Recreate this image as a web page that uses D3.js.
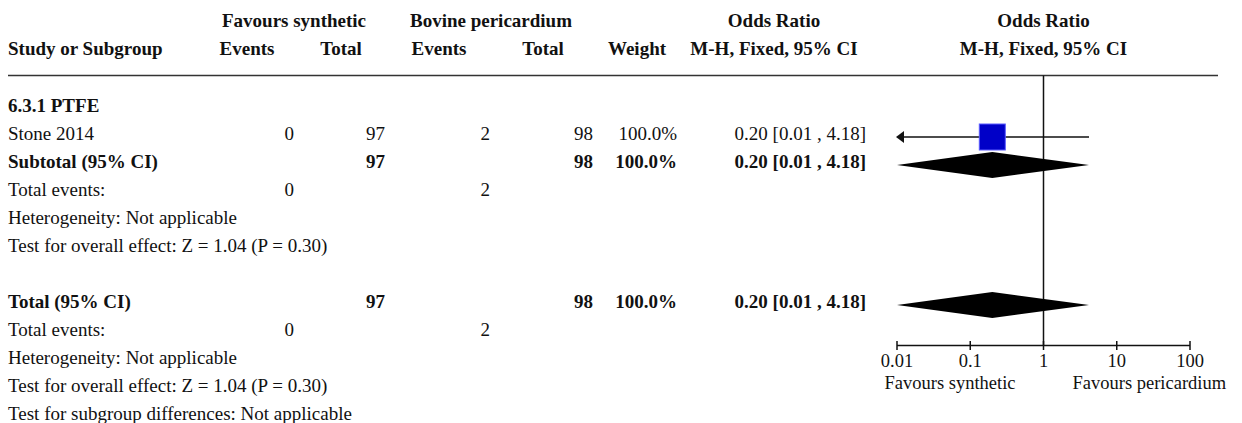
<!DOCTYPE html>
<html>
<head>
<meta charset="utf-8">
<script src="https://cdn.jsdelivr.net/npm/d3@7"></script>
<style>
  html, body { margin: 0; padding: 0; background: #fff; }
  svg { display: block; }
  text { font-family: "Liberation Serif", "Times New Roman", serif; fill: #111; }
</style>
</head>
<body>
<svg id="chart" width="1242" height="423"></svg>
<script>
// ---------------- data ----------------
const groupLabel = "6.3.1 PTFE";
const studies = ["Stone 2014"];
const synthEvents = [0];
const synthTotal = [97];
const bovEvents = [2];
const bovTotal = [98];
const weights = [100.0];
const orEst = [0.20];
const ciLow = [0.01];
const ciHigh = [4.18];

const subtotal = { label: "Subtotal (95% CI)", synthTotal: 97, bovTotal: 98, weight: 100.0, or: 0.20, lo: 0.01, hi: 4.18, synthEvents: 0, bovEvents: 2 };
const overall = { label: "Total (95% CI)", synthTotal: 97, bovTotal: 98, weight: 100.0, or: 0.20, lo: 0.01, hi: 4.18, synthEvents: 0, bovEvents: 2 };
const heterogeneityText = "Heterogeneity: Not applicable";
const overallEffectText = "Test for overall effect: Z = 1.04 (P = 0.30)";
const subgroupDiffText = "Test for subgroup differences: Not applicable";

const axisTicks = [0.01, 0.1, 1, 10, 100];
const axisTickLabels = ["0.01", "0.1", "1", "10", "100"];
const favoursLeft = "Favours synthetic";
const favoursRight = "Favours pericardium";

// ---------------- layout ----------------
const svg = d3.select("#chart");
const FS = 19;
const x = d3.scaleLog().domain([0.01, 100]).range([897, 1190]);
const rowY = d3.scaleLinear().domain([0, 1]).range([112, 140]); // text baseline by row index
const markOffset = -3;

const col = { study: 8, sEv: 294, sTot: 385, bEv: 490, bTot: 593, weight: 677, ci: 866 };
const fmtCI = (o, l, h) => `${o.toFixed(2)} [${l.toFixed(2)} , ${h.toFixed(2)}]`;
const fmtW = w => w.toFixed(1) + "%";

function txt(xp, y, s, opts = {}) {
  return svg.append("text")
    .attr("x", xp).attr("y", y)
    .attr("font-size", opts.size || FS)
    .attr("font-weight", opts.bold ? "bold" : "normal")
    .attr("text-anchor", opts.anchor || "start")
    .text(s);
}

// headers
txt(294, 27, "Favours synthetic", { bold: true, anchor: "middle" });
txt(491, 27, "Bovine pericardium", { bold: true, anchor: "middle" });
txt(774, 27, "Odds Ratio", { bold: true, anchor: "middle" });
txt(x(1), 27, "Odds Ratio", { bold: true, anchor: "middle" });
txt(8, 55, "Study or Subgroup", { bold: true });
txt(247, 55, "Events", { bold: true, anchor: "middle" });
txt(341, 55, "Total", { bold: true, anchor: "middle" });
txt(439, 55, "Events", { bold: true, anchor: "middle" });
txt(543, 55, "Total", { bold: true, anchor: "middle" });
txt(637, 55, "Weight", { bold: true, anchor: "middle" });
txt(774, 55, "M-H, Fixed, 95% CI", { bold: true, anchor: "middle" });
txt(x(1), 55, "M-H, Fixed, 95% CI", { bold: true, anchor: "middle" });

svg.append("line").attr("x1", 8).attr("x2", 1218).attr("y1", 75.5).attr("y2", 75.5)
  .attr("stroke", "#333").attr("stroke-width", 1.6);

// center line
const axisY = 345.5;
svg.append("line").attr("x1", x(1)).attr("x2", x(1)).attr("y1", 75.5).attr("y2", axisY)
  .attr("stroke", "#111").attr("stroke-width", 1.5);

// group label
txt(col.study, rowY(0), groupLabel, { bold: true });

// studies
studies.forEach((s, i) => {
  const r = 1 + i, y = rowY(r);
  txt(col.study, y, s);
  txt(col.sEv, y, synthEvents[i], { anchor: "end" });
  txt(col.sTot, y, synthTotal[i], { anchor: "end" });
  txt(col.bEv, y, bovEvents[i], { anchor: "end" });
  txt(col.bTot, y, bovTotal[i], { anchor: "end" });
  txt(col.weight, y, fmtW(weights[i]), { anchor: "end" });
  txt(col.ci, y, fmtCI(orEst[i], ciLow[i], ciHigh[i]), { anchor: "end" });
  const my = y + markOffset;
  const lo = Math.max(ciLow[i], x.domain()[0]);
  svg.append("line").attr("x1", x(lo) + 4).attr("x2", x(ciHigh[i])).attr("y1", my).attr("y2", my)
    .attr("stroke", "#111").attr("stroke-width", 1.5);
  // arrow at left end when CI reaches axis limit
  if (ciLow[i] <= x.domain()[0]) {
    const ax = x(x.domain()[0]);
    svg.append("path").attr("d", `M${ax - 1},${my} L${ax + 7},${my - 6} L${ax + 7},${my + 6} Z`).attr("fill", "#111");
  }
  const size = 26 * Math.sqrt(weights[i] / 100);
  svg.append("rect").attr("x", x(orEst[i]) - size / 2).attr("y", my - size / 2)
    .attr("width", size).attr("height", size)
    .attr("fill", "#0000c8").attr("stroke", "#5a5aff").attr("stroke-width", 1);
});

function summaryRow(r, d) {
  const y = rowY(r);
  txt(col.study, y, d.label, { bold: true });
  txt(col.sTot, y, d.synthTotal, { anchor: "end", bold: true });
  txt(col.bTot, y, d.bovTotal, { anchor: "end", bold: true });
  txt(col.weight, y, fmtW(d.weight), { anchor: "end", bold: true });
  txt(col.ci, y, fmtCI(d.or, d.lo, d.hi), { anchor: "end", bold: true });
  const my = y + markOffset, h = 13;
  svg.append("path")
    .attr("d", `M${x(d.lo)},${my} L${x(d.or)},${my - h} L${x(d.hi)},${my} L${x(d.or)},${my + h} Z`)
    .attr("fill", "#000");
}
function eventsRow(r, d) {
  const y = rowY(r);
  txt(col.study, y, "Total events:");
  txt(col.sEv, y, d.synthEvents, { anchor: "end" });
  txt(col.bEv, y, d.bovEvents, { anchor: "end" });
}

summaryRow(2, subtotal);
eventsRow(3, subtotal);
txt(col.study, rowY(4), heterogeneityText);
txt(col.study, rowY(5), overallEffectText);

summaryRow(7, overall);
eventsRow(8, overall);
txt(col.study, rowY(9), heterogeneityText);
txt(col.study, rowY(10), overallEffectText);
txt(col.study, rowY(11), subgroupDiffText);

// axis
const ax = svg.append("g");
ax.append("line").attr("x1", x(0.01)).attr("x2", x(100)).attr("y1", axisY).attr("y2", axisY)
  .attr("stroke", "#111").attr("stroke-width", 1.5);
axisTicks.forEach((t, i) => {
  ax.append("line").attr("x1", x(t)).attr("x2", x(t)).attr("y1", axisY - 4.5).attr("y2", axisY + 4.5)
    .attr("stroke", "#111").attr("stroke-width", 1.5);
  txt(x(t), 367, axisTickLabels[i], { anchor: "middle", size: 18.5 });
});
txt(x(1) - 28, 389, favoursLeft, { anchor: "end", size: 18.5 });
txt(x(1) + 29, 389, favoursRight, { anchor: "start", size: 18.5 });
</script>
</body>
</html>
